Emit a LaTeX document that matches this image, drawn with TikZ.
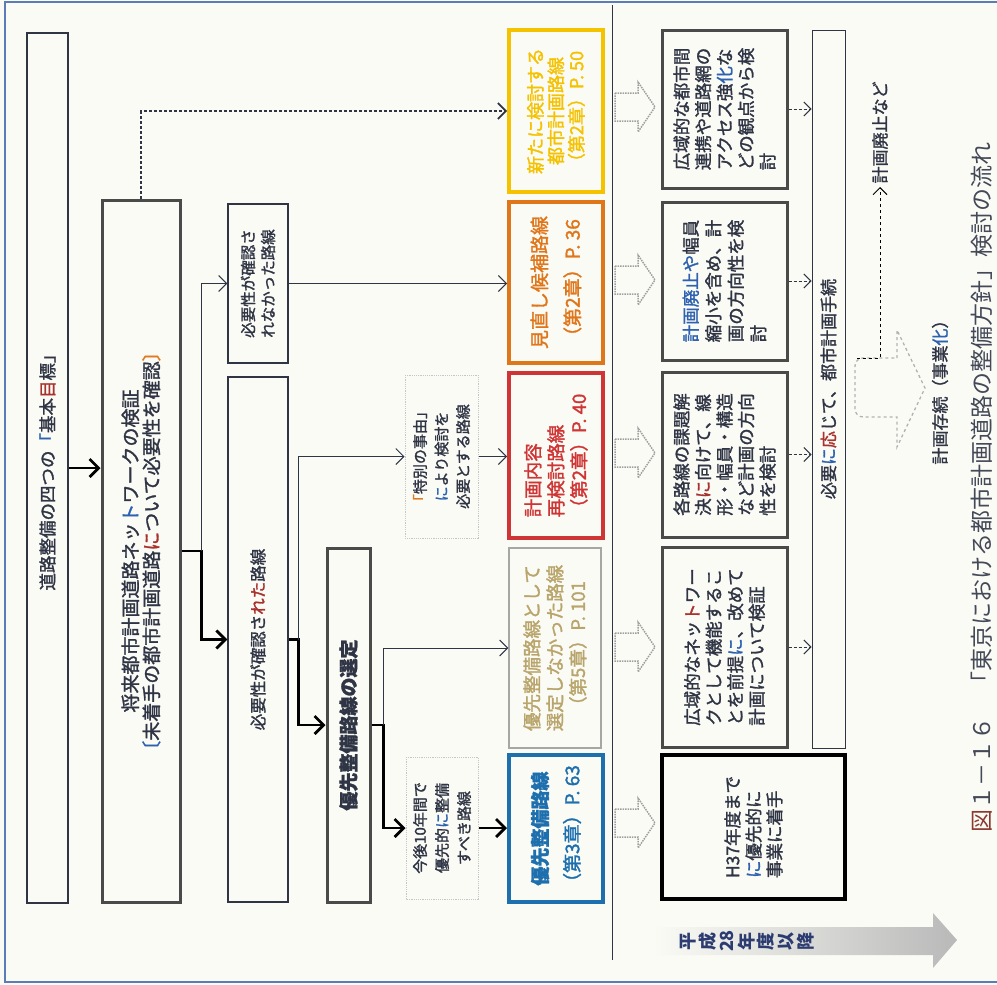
\documentclass[tikz,border=0pt]{standalone}
\usepackage{fontspec}
\setmainfont{Noto Sans CJK JP}
\newfontfamily\med{Noto Sans CJK JP}[FakeBold=1.6]
\usetikzlibrary{arrows.meta}

\definecolor{bg}{HTML}{FBFBF6}
\definecolor{ink}{HTML}{2F3545}
\definecolor{blue1}{HTML}{2E62B0}
\definecolor{red1}{HTML}{A8322D}
\definecolor{orange1}{HTML}{E07A1F}
\definecolor{prioblue}{HTML}{1E6FAE}
\definecolor{recred}{HTML}{CF3535}
\definecolor{revorange}{HTML}{E0761A}
\definecolor{newyellow}{HTML}{F5C200}
\definecolor{khaki}{HTML}{B9A56B}
\definecolor{heavyline}{HTML}{4A4A4A}
\definecolor{framecol}{HTML}{5A7DB8}
\definecolor{navy}{HTML}{2C3C70}
\definecolor{figred}{HTML}{8B3A32}

\tikzset{
  box/.style={draw=ink, line width=1.2pt, rotate=90, inner sep=0pt, align=center, text=ink},
  wh/.style 2 args={minimum height=#1, minimum width=#2},
  txt/.style 2 args={font=\med\fontsize{#1}{#2}\selectfont},
  heavy/.style={draw=heavyline, line width=3pt},
  faint/.style={draw=gray!45, densely dotted, line width=1pt},
  link/.style={draw=ink, line width=1pt, -{Straight Barb[length=8pt,width=16pt]}},
  mainlink/.style={draw=black, line width=2.8pt, -{Straight Barb[length=9pt,width=18pt]}},
  dotlink/.style={draw=ink, line width=1pt, densely dashed, -{Straight Barb[length=7pt,width=14pt]}},
}

\begin{document}
\begin{tikzpicture}[x=1pt, y=-1pt]
\useasboundingbox (0,0) rectangle (997,985);
\fill[bg] (0,0) rectangle (997,985);
\draw[framecol, line width=1.5pt] (1010,2) -- (5,2) -- (5,982) -- (1010,982);
\draw[ink, line width=1pt] (612,5) -- (612,960);

\node[box, wh={41}{870}, txt={17.5}{21}] (goal) at (47.5,468) {道路整備の四つの{\color{blue1}「}基本{\color{red1}目}標」};
\node[box, heavy, wh={78}{702}, txt={19}{21}] (network) at (141,551) {将来都市計画道路ネッ{\color{blue1}ト}ワークの検証\\{\color{blue1}〔}未着手の都市計画道路{\color{red1}に}ついて必要性を確認{\color{orange1}〕}};
\node[box, wh={60}{159}, txt={15.5}{20}] (notneed) at (258,283.5) {必要性が確認さ\\れなかった路線};
\node[box, wh={60}{525}, txt={16.5}{20}] (need) at (258,639.5) {必要性が確認さ{\color{red1}れた}路線};
\node[box, heavy, wh={43}{354}, txt={19}{21}] (select) at (348.5,725) {\bfseries 優先整備路線の選定};
\node[box, faint, wh={73}{163}, txt={15}{21.5}] (special) at (441.5,456.5) {{\color{orange1}「}特別の事由」\\{\color{blue1}に}より検討を\\必要とする路線};
\node[box, faint, wh={72}{142}, txt={15}{22}] (tenyear) at (442,828) {今後10年間で\\優先的{\color{blue1}に}整備\\すべき路線};

\node[box, draw=prioblue, line width=4pt, wh={94}{147}, txt={19}{32}, text=prioblue] (prio) at (556,828.5) {\bfseries 優先整備路線\\（第3章）P. 63};
\node[box, draw=gray!70, wh={92}{200}, txt={18.5}{23}, text=khaki] (notsel) at (555,648) {優先整備路線として\\選定しなかった路線\\（第5章）P. 101};
\node[box, draw=recred, line width=4pt, wh={94}{165}, txt={18.5}{23}, text=recred, align=left] (recheck) at (556,455.5) {計画内容\\再検討路線\\（第2章）P. 40};
\node[box, draw=revorange, line width=4pt, wh={94}{161}, txt={19}{33}, text=revorange] (review) at (556,282.5) {見直し候補路線\\（第2章）P. 36};
\node[box, draw=newyellow, line width=4pt, wh={94}{162}, txt={18}{20.5}, text=newyellow] (new) at (556,111) {新たに検討する\\都市計画路線\\（第2章）P. 50};

\node[box, heavy, wh={125}{158}, txt={17.5}{21.5}, align=left] (wide) at (724.5,109) {広域的な都市間\\連携や道路網の\\アクセス強{\color{blue1}化}な\\どの観点から検\\討};
\node[box, heavy, wh={125}{158}, txt={17.5}{22.5}, align=left] (plan) at (724.5,281) {{\color{blue1}計画廃止や}幅員\\縮小を含め、計\\画の方向性を検\\討};
\node[box, heavy, wh={125}{165}, txt={17.5}{21.5}, align=left] (each) at (724.5,454.5) {各路線の課題解\\決{\color{red1}に}向けて、線\\形・幅員・構造\\など計画の方向\\性を検討};
\node[box, heavy, wh={125}{200}, txt={17.5}{21.5}, align=left] (netw) at (724.5,647) {広域的なネッ{\color{red1}ト}ワー\\クとして機能するこ\\とを前提{\color{blue1}に}、改めて\\計画について検証};
\node[box, draw=black, line width=4.5pt, wh={183}{144}, txt={17.5}{21}, align=left] (h37) at (753.5,827) {H37年度まで\\{\color{blue1}に}優先的に\\事業に着手};
\node[box, line width=1pt, wh={33}{718}, txt={17}{20}] (proc) at (828.5,389) {必要{\color{blue1}に}{\color{red1}応}じて、都市計画手続};

\node[rotate=90, txt={17}{20}, text=ink] (keep) at (940,388) {計画存続（事業{\color{blue1}化}）};
\node[rotate=90, anchor=west, txt={17}{20}, text=ink] (abolish) at (880,187) {計画廃止など};
\node[rotate=90, font=\fontsize{23}{26}\selectfont, text=ink!90] (caption) at (982,487) {{\color{figred}図}１－１６　「東京における都市計画道路の整備方針」検討の流れ};

\draw[mainlink] (goal.south) -- (goal.south -| network.north);
\draw[mainlink] (network.south) -- ++(20,0) |- (need.north);
\draw[link] (network.south) ++(20,0) |- (notneed.north);
\draw[link, line width=1.6pt, densely dashed] (network.east) |- (new.north);
\draw[link] (notneed.south) -- (notneed.south -| review.north);
\draw[mainlink] (need.south) -- ++(10,0) |- (select.north);
\draw[link] (need.south) ++(10,0) |- (special.north);
\draw[link] (special.south) -- (special.south -| recheck.north);
\draw[mainlink] (select.south) -- ++(12,0) |- (tenyear.north);
\draw[link] (select.south) ++(12,0) |- (notsel.north);
\draw[mainlink] (tenyear.south) -- (tenyear.south -| prio.north);
\foreach \b in {wide,plan,each,netw}
  \draw[dotlink] (\b.south) -- (\b.south -| proc.north);

\foreach \y in {107,280,453,647,823}
  \draw[gray!75, densely dotted, line width=1.5pt] (615,\y-14) -- (638,\y-14) -- (638,\y-25) -- (655,\y) -- (638,\y+25) -- (638,\y+14) -- (615,\y+14) -- cycle;

\draw[gray!60, dashed, line width=1.3pt] (897,358) -- (897,330) -- (925,388) -- (897,447) -- (897,417) [rounded corners=8pt] -- (855,417) -- (855,358) -- (897,358);
\coordinate (split) at (857,358);
\draw[dashed, draw=black, line width=1pt, -{Straight Barb[length=7pt,width=14pt]}] (split) -| (abolish.west);

\shade[left color=bg, right color=gray!55] (653,927) -- (933,927) -- (933,913) -- (957,940) -- (933,968) -- (933,955) -- (653,955) -- cycle;
\node[rotate=90, font=\fontsize{18}{19.6}\selectfont\bfseries, text=navy, align=center] (since) at (747,941) {平\\成\\28\\年\\度\\以\\降};
\end{tikzpicture}
\end{document}
